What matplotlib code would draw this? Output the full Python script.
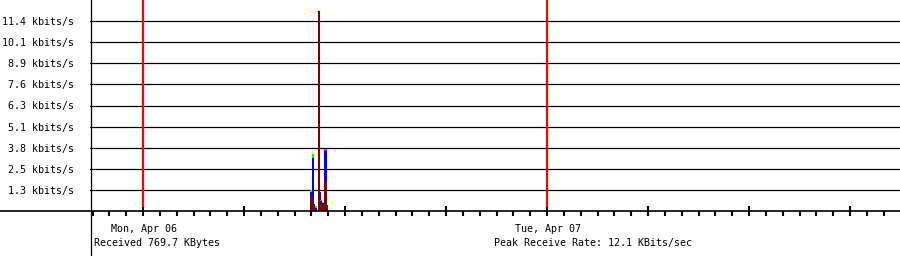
import numpy as np
import matplotlib
matplotlib.use("Agg")
import matplotlib.pyplot as plt
from matplotlib.lines import Line2D
from matplotlib import transforms

# hours relative to Mon, Apr 06 00:00
times = [9.95, 10.07, 10.16, 10.25, 10.43, 10.52, 10.60, 10.72, 10.84, 10.93]
# kbits/s per traffic class, stacked bottom to top
maroon  = [0.95, 0.60, 0.35, 0.05, 11.82, 1.08, 0.45, 0.35, 1.80, 0.30]
blue    = [0.20, 2.60, 0.05, 0.15, 0.18, 0.05, 0.15, 0.15, 1.80, 0.05]
magenta = [0.00, 0.00, 0.00, 0.00, 0.00, 0.00, 0.05, 0.00, 0.12, 0.00]
green   = [0.10, 0.20, 0.00, 0.10, 0.00, 0.00, 0.00, 0.05, 0.00, 0.00]
yellow  = [0.00, 0.15, 0.00, 0.00, 0.10, 0.00, 0.00, 0.00, 0.00, 0.00]

ymax = 12.68
ytick_labels = ["1.3 kbits/s", "2.5 kbits/s", "3.8 kbits/s", "5.1 kbits/s", "6.3 kbits/s",
                "7.6 kbits/s", "8.9 kbits/s", "10.1 kbits/s", "11.4 kbits/s"]
midnights = [0, 24]
day_labels = ["Mon, Apr 06", "Tue, Apr 07"]
xstart, xend = -3.15, 44.97

FONT = "DejaVu Sans Mono"
FS = 7.2

fig = plt.figure(figsize=(9, 2.56), dpi=100)
ax = fig.add_axes([90/900, 45/256, 810/900, 211/256])
ax.set_xlim(xstart, xend)
ax.set_ylim(0, ymax)
for s in ax.spines.values():
    s.set_visible(False)

# grid lines
yt = [ymax * (i + 1) / 10 for i in range(len(ytick_labels))]
ax.set_yticks(yt)
ax.set_yticklabels(ytick_labels, fontsize=FS, family=FONT)
ax.tick_params(axis="y", length=0, pad=11.5)
for y in yt:
    ax.axhline(y, color="black", lw=0.9, zorder=1)

# stacked bars
w = 0.12
bottom = np.zeros(len(times))
for vals, col in [(maroon, "#800000"), (blue, "#0000ff"), (magenta, "#ff00ff"),
                  (green, "#00ff00"), (yellow, "#ffff00")]:
    ax.bar(times, vals, width=w, bottom=bottom, color=col, linewidth=0,
           antialiased=False, zorder=3)
    bottom += np.array(vals)

# midnight markers
for m in midnights:
    ax.axvline(m, ymin=5/211, ymax=1, color="red", lw=1.6, zorder=4)

# hour / 6-hour ticks
ax.set_xticks(np.arange(0, 45, 6))
ax.set_xticks(np.arange(-3, 45, 1), minor=True)
ax.set_xticklabels([])
ax.tick_params(axis="x", which="major", direction="inout", length=7.5, width=1.5, color="black")
ax.tick_params(axis="x", which="minor", direction="out", length=3.6, width=1.5, color="black")

# axis lines
fig.add_artist(Line2D([0, 1], [1 - 211/256, 1 - 211/256], color="black", lw=1.2))
fig.add_artist(Line2D([90.5/900, 90.5/900], [0, 1], color="black", lw=0.9))

tr = transforms.blended_transform_factory(ax.transData, fig.transFigure)
for m, lab in zip(midnights, day_labels):
    ax.text(m + 0.05, 1 - 228.7/256, lab, transform=tr, ha="center", va="center",
            fontsize=FS, family=FONT)

fig.text(94/900, 1 - 243/256, "Received 769.7 KBytes", ha="left", va="center",
         fontsize=FS, family=FONT)
fig.text(494/900, 1 - 243/256, "Peak Receive Rate: 12.1 KBits/sec", ha="left", va="center",
         fontsize=FS, family=FONT)

fig.savefig("out.png", dpi=100, facecolor="white")
